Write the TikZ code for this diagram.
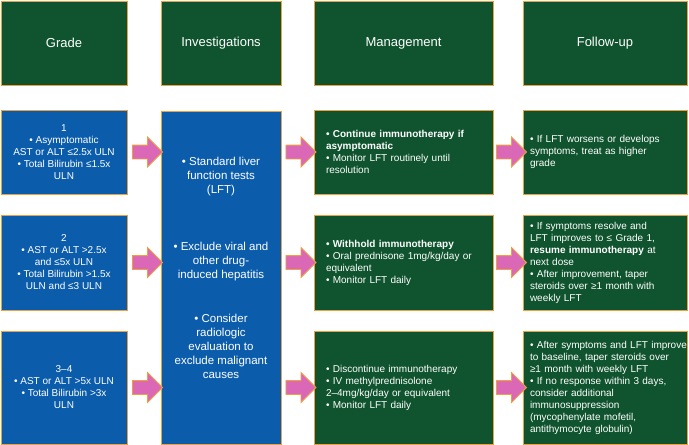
\documentclass[tikz,border=0pt]{standalone}
\usepackage{fontspec}
\setmainfont{Liberation Sans}
\usetikzlibrary{positioning, shapes.arrows, calc}

\definecolor{hdrgreen}{RGB}{15,84,46}
\definecolor{gradeblue}{RGB}{11,93,172}
\definecolor{edgeorange}{RGB}{238,160,64}
\definecolor{arrowpink}{RGB}{218,104,182}

\begin{document}
\begin{tikzpicture}[
        x=1pt, y=-1pt,
        node distance=20pt and 0pt,
        box/.style={draw=edgeorange, line width=1pt, rectangle, text=white, inner sep=0pt, font=\fontsize{10}{12}\selectfont},
        hdr/.style={box, fill=hdrgreen, minimum height=84pt, font=\fontsize{13}{15}\selectfont},
        grade/.style={box, fill=gradeblue, align=center, minimum width=126pt},
        mgmt/.style={box, fill=hdrgreen, align=left, inner xsep=12pt, text width=155pt, minimum width=179pt},
        follow/.style={box, fill=hdrgreen, align=left, inner xsep=7pt, text width=150pt, minimum width=164pt},
        invtext/.style={text=white, align=center, inner sep=0pt, font=\fontsize{11.5}{14}\selectfont},
        fatarrow/.style={single arrow, draw=edgeorange, fill=arrowpink, line width=0.8pt, minimum height=30pt, single arrow head extend=8pt, single arrow head indent=0pt, inner sep=6.5pt}
    ]
    \useasboundingbox (0,0) rectangle (689,445);

    \node[hdr, minimum width=126pt] (hGrade) at (64,43) {Grade};
    \node[hdr, minimum width=120pt] (hInv) at (221,43) {Investigations};
    \node[hdr, minimum width=179pt] (hMgmt) at (403.5,43) {Management};
    \node[hdr, minimum width=164pt] (hFollow) at (605,43) {Follow-up};

    \node[grade, minimum height=84pt, below=24pt of hGrade] (g1) {1\\• Asymptomatic\\AST or ALT ≤2.5x ULN\\• Total Bilirubin ≤1.5x\\ULN};
    \node[grade, minimum height=95pt, below=of g1] (g2) {2\\• AST or ALT >2.5x\\and ≤5x ULN\\• Total Bilirubin >1.5x\\ULN and ≤3 ULN};
    \node[grade, minimum height=113pt, below=of g2] (g3) {3–4\\• AST or ALT >5x ULN\\• Total Bilirubin >3x\\ULN};

    \node[box, fill=gradeblue, minimum width=120pt, minimum height=333pt, below=25pt of hInv] (inv) {};
    \node[invtext] (invA) at ($(inv.north)+(0,66)$) {• Standard liver\\function tests\\(LFT)};
    \node[invtext] (invB) at ($(inv.north)+(0,151)$) {• Exclude viral and\\other drug-\\induced hepatitis};
    \node[invtext] (invC) at ($(inv.north)+(0,236)$) {• Consider\\radiologic\\evaluation to\\exclude malignant\\causes};

    \node[mgmt, minimum height=84pt, below=24pt of hMgmt] (m1) {\textbf{• Continue immunotherapy if}\\\textbf{asymptomatic}\\• Monitor LFT routinely until\\resolution};
    \node[mgmt, minimum height=95pt, below=of m1] (m2) {\textbf{• Withhold immunotherapy}\\• Oral prednisone 1mg/kg/day or\\equivalent\\• Monitor LFT daily};
    \node[mgmt, minimum height=113pt, below=of m2] (m3) {• Discontinue immunotherapy\\• IV methylprednisolone\\2–4mg/kg/day or equivalent\\• Monitor LFT daily};

    \node[follow, minimum height=84pt, below=24pt of hFollow] (f1) {• If LFT worsens or develops\\symptoms, treat as higher\\grade};
    \node[follow, minimum height=95pt, below=of f1] (f2) {• If symptoms resolve and\\LFT improves to ≤ Grade 1,\\\textbf{resume immunotherapy} at\\next dose\\• After improvement, taper\\steroids over ≥1 month with\\weekly LFT};
    \node[follow, minimum height=113pt, below=of f2] (f3) {\mbox{• After symptoms and LFT improve}\\to baseline, taper steroids over\\≥1 month with weekly LFT\\• If no response within 3 days,\\consider additional\\immunosuppression\\(mycophenylate mofetil,\\antithymocyte globulin)};

    % block arrows between the columns
    \node[fatarrow] (a1) at ($(g1.east)!0.5!(inv.west |- g1.east)$) {};
    \node[fatarrow] (a2) at ($(g2.east)!0.5!(inv.west |- g2.east)$) {};
    \node[fatarrow] (a3) at ($(g3.east)!0.5!(inv.west |- g3.east)$) {};

    \node[fatarrow] (b1) at ($(inv.east |- m1.west)!0.5!(m1.west)$) {};
    \node[fatarrow] (b2) at ($(inv.east |- m2.west)!0.5!(m2.west)$) {};
    \node[fatarrow] (b3) at ($(inv.east |- m3.west)!0.5!(m3.west)$) {};

    \node[fatarrow] (c1) at ($(m1.east)!0.5!(f1.west)$) {};
    \node[fatarrow] (c2) at ($(m2.east)!0.5!(f2.west)$) {};
    \node[fatarrow] (c3) at ($(m3.east)!0.5!(f3.west)$) {};

\end{tikzpicture}
\end{document}
